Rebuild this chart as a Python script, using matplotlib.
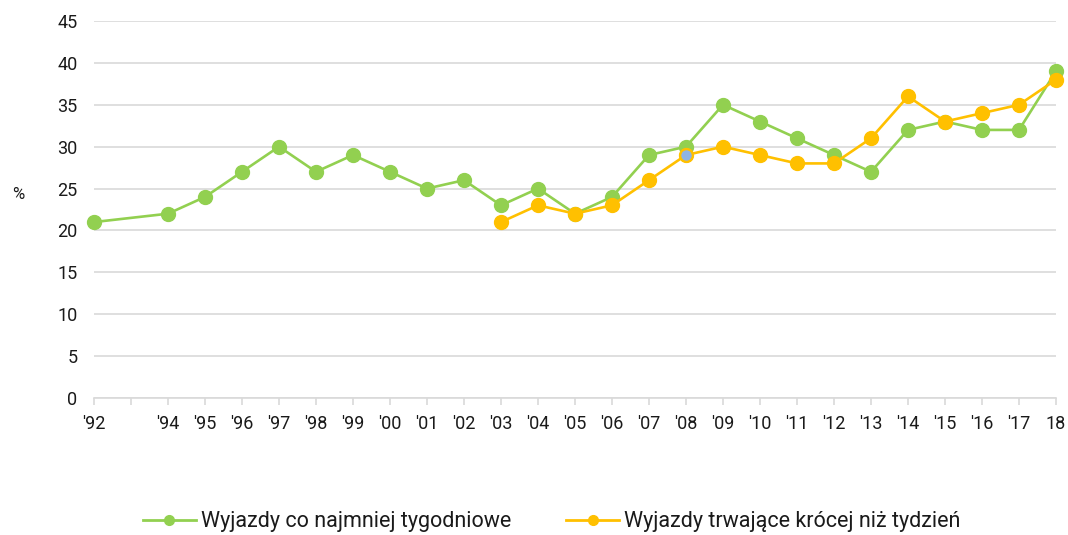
#!/usr/bin/env python
# -*- coding: utf-8 -*-
"""Line chart: share of trips (weekly and shorter than a week), 1992-2018."""

import matplotlib

matplotlib.use("Agg")
import matplotlib.pyplot as plt

plt.rcParams["font.family"] = ["Roboto", "DejaVu Sans"]

GREEN = "#92D050"
ORANGE = "#FFC000"
HIGHLIGHT = "#8EB4E3"
GRID = "#D9D9D9"
TEXT = "#1A1A1A"

# --- data ---
years_long = [1992, 1994, 1995, 1996, 1997, 1998, 1999, 2000, 2001, 2002,
              2003, 2004, 2005, 2006, 2007, 2008, 2009, 2010, 2011, 2012,
              2013, 2014, 2015, 2016, 2017, 2018]
weekly = [21, 22, 24, 27, 30, 27, 29, 27, 25, 26,
          23, 25, 22, 24, 29, 30, 35, 33, 31, 29,
          27, 32, 33, 32, 32, 39]

years_short = [2003, 2004, 2005, 2006, 2007, 2008, 2009, 2010, 2011, 2012,
               2013, 2014, 2015, 2016, 2017, 2018]
shorter = [21, 23, 22, 23, 26, 29, 30, 29, 28, 28,
           31, 36, 33, 34, 35, 38]

tick_years = list(range(1992, 2019))
tick_labels = ["'92", "", "'94", "'95", "'96", "'97", "'98", "'99", "'00",
               "'01", "'02", "'03", "'04", "'05", "'06", "'07", "'08", "'09",
               "'10", "'11", "'12", "'13", "'14", "'15", "'16", "'17", "18"]

LABEL_WEEKLY = "Wyjazdy co najmniej tygodniowe"
LABEL_SHORT = "Wyjazdy trwające krócej niż tydzień"


def main() -> None:
    fig = plt.figure(figsize=(10.68, 5.35), dpi=100)
    ax = fig.add_axes([94 / 1068, 1 - 398 / 535, (1056 - 94) / 1068, (398 - 21) / 535])

    style = dict(linewidth=1.9, marker="o", markersize=10, clip_on=False, zorder=3)
    ax.plot(years_long, weekly, color=GREEN, markerfacecolor=GREEN,
            markeredgecolor=GREEN, **style)
    ax.plot(years_short, shorter, color=ORANGE, markerfacecolor=ORANGE,
            markeredgecolor=ORANGE, **style)

    # single highlighted point in 2008
    i08 = years_short.index(2008)
    ax.plot([years_short[i08]], [shorter[i08]], linestyle="none", marker="o",
            markersize=9, markerfacecolor=HIGHLIGHT, markeredgecolor=ORANGE,
            markeredgewidth=1.5, zorder=4, clip_on=False)

    ax.set_xlim(1992, 2018)
    ax.set_ylim(0, 45)
    ax.set_yticks(range(0, 50, 5))
    ax.set_xticks(tick_years)
    ax.set_xticklabels(tick_labels)

    ax.grid(axis="y", color=GRID, linewidth=1.2)
    ax.set_axisbelow(True)
    for side in ("top", "right", "left"):
        ax.spines[side].set_visible(False)
    ax.spines["bottom"].set_color(GRID)
    ax.spines["bottom"].set_linewidth(1.2)
    ax.tick_params(axis="x", length=5, color=GRID, width=1.2, labelsize=13,
                   labelcolor=TEXT, pad=7)
    ax.tick_params(axis="y", length=0, labelsize=13, labelcolor=TEXT, pad=12)

    fig.text(18 / 1068, 1 - 195 / 535, "%", fontsize=12, color=TEXT,
             ha="center", va="center")

    handles = [
        plt.Line2D([0], [0], color=GREEN, lw=2, marker="o", markersize=7,
                   label=LABEL_WEEKLY),
        plt.Line2D([0], [0], color=ORANGE, lw=2, marker="o", markersize=7,
                   label=LABEL_SHORT),
    ]
    leg = fig.legend(handles=handles, loc="center left",
                     bbox_to_anchor=(143 / 1068, 1 - 522 / 535), ncol=2,
                     frameon=False, fontsize=15.5, handlelength=2.45,
                     handletextpad=0.25, columnspacing=2.55, borderaxespad=0,
                     borderpad=0)
    for t in leg.get_texts():
        t.set_color(TEXT)

    fig.savefig("out.png", dpi=100)
    plt.close(fig)


if __name__ == "__main__":
    main()
